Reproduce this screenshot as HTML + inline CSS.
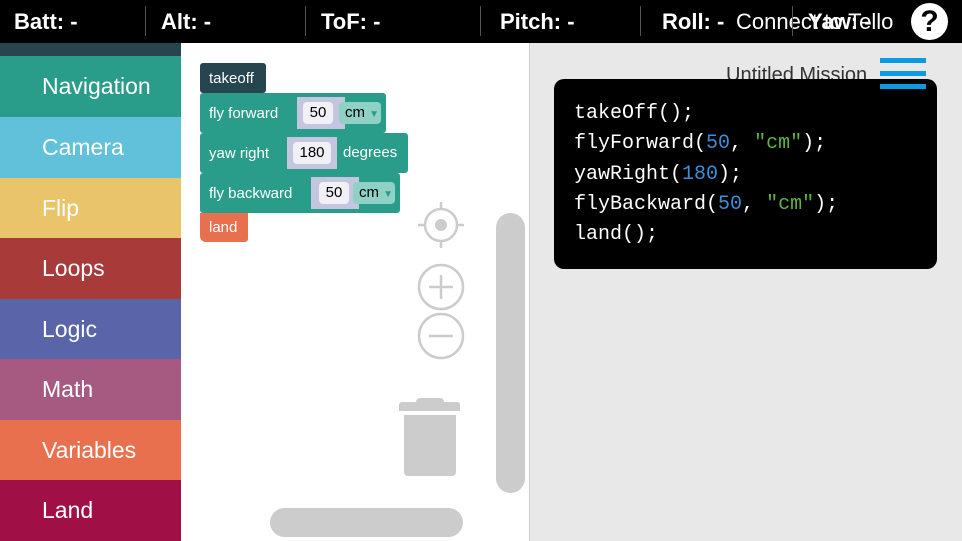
<!DOCTYPE html>
<html><head><meta charset="utf-8"><style>
*{margin:0;padding:0;box-sizing:border-box}
body{width:962px;height:541px;overflow:hidden;position:relative;font-family:"Liberation Sans",sans-serif;background:#fff}
.a{position:absolute}
.hd{left:0;top:0;width:962px;height:43px;background:#000;color:#fff;font-size:22px}
.hd span{position:absolute;top:9px;font-weight:bold;white-space:nowrap}
.sep{position:absolute;top:6px;width:1px;height:30px;background:#555}
.cat{left:0;width:181px;color:#fff;font-size:23px;padding-left:42px;display:flex;align-items:center}
.blk{position:absolute;color:#fff;font-size:15px;display:flex;align-items:center;padding-left:9px;border-radius:3px;white-space:nowrap}
.inp{position:absolute;background:#c3c6de;height:32px}
.inp b{position:absolute;background:#f1f1f5;border-radius:4px;color:#000;font-weight:normal;font-size:15px;text-align:center;line-height:22px;top:5px}
.dd{position:absolute;background:#8fd1c4;border-radius:4px;color:#000;height:22px;font-size:15px;padding-left:6px;line-height:22px}
.dd i{font-style:normal;color:#2a9d8a;font-size:10px}
.code{left:554px;top:79px;width:383px;height:190px;background:#000;border-radius:10px;color:#fff;font-family:"Liberation Mono",monospace;font-size:20px;line-height:30.3px;padding:20px 0 0 20px;white-space:nowrap}
.n{color:#3b8fd6}.s{color:#5fb43c}
</style></head><body>
<div class="a hd">
<span style="left:14px">Batt: -</span><div class="sep" style="left:145px"></div>
<span style="left:161px">Alt: -</span><div class="sep" style="left:305px"></div>
<span style="left:321px">ToF: -</span><div class="sep" style="left:480px"></div>
<span style="left:500px">Pitch: -</span><div class="sep" style="left:640px"></div>
<span style="left:662px">Roll: -</span>
<span style="left:736px;font-weight:normal">Connect to Tello</span><div class="sep" style="left:792px"></div>
<span style="left:808px">Yaw: -</span>
<div class="a" style="left:911px;top:3px;width:37px;height:37px;border-radius:50%;background:#fff;color:#000;font-size:30px;font-weight:bold;text-align:center;line-height:37px">?</div>
</div>
<div class="a" style="left:0;top:43px;width:181px;height:13px;background:#26454f"></div>
<div class="a cat" style="top:56px;height:61px;background:#2a9d8a">Navigation</div>
<div class="a cat" style="top:117px;height:61px;background:#62c1da">Camera</div>
<div class="a cat" style="top:178px;height:60px;background:#e9c46a">Flip</div>
<div class="a cat" style="top:238px;height:61px;background:#a83a3a">Loops</div>
<div class="a cat" style="top:299px;height:60px;background:#5a64a8">Logic</div>
<div class="a cat" style="top:359px;height:61px;background:#a65a82">Math</div>
<div class="a cat" style="top:420px;height:60px;background:#e8704f">Variables</div>
<div class="a cat" style="top:480px;height:61px;background:#a01046">Land</div>

<div class="a" style="left:529px;top:43px;width:433px;height:498px;background:#e8e8e8;border-left:1px solid #ccc"></div>

<div class="blk" style="left:200px;top:63px;width:66px;height:30px;background:#26454f">takeoff</div>
<div class="blk" style="left:200px;top:93px;width:186px;height:40px;background:#2a9d8a">fly forward
 <div class="inp" style="left:97px;top:4px;width:48px"><b style="left:6px;width:30px">50</b></div>
 <div class="dd" style="left:139px;top:9px;width:42px">cm <i>▼</i></div></div>
<div class="blk" style="left:200px;top:133px;width:208px;height:40px;background:#2a9d8a">yaw right
 <div class="inp" style="left:87px;top:4px;width:50px"><b style="left:6px;width:38px">180</b></div>
 <span style="position:absolute;left:143px;top:11px">degrees</span></div>
<div class="blk" style="left:200px;top:173px;width:200px;height:40px;background:#2a9d8a">fly backward
 <div class="inp" style="left:111px;top:4px;width:48px"><b style="left:8px;width:30px">50</b></div>
 <div class="dd" style="left:153px;top:9px;width:42px">cm <i>▼</i></div></div>
<div class="blk" style="left:200px;top:213px;width:48px;height:29px;background:#e8704f;border-radius:0 0 3px 6px">land</div>

<svg class="a" style="left:410px;top:195px" width="62" height="170">
<g stroke="#ccc" stroke-width="2.5" fill="none">
<circle cx="31" cy="30" r="16"/><line x1="31" y1="7" x2="31" y2="14"/><line x1="31" y1="46" x2="31" y2="53"/><line x1="8" y1="30" x2="15" y2="30"/><line x1="47" y1="30" x2="54" y2="30"/>
<circle cx="31" cy="92" r="22"/><line x1="31" y1="80" x2="31" y2="104"/><line x1="19" y1="92" x2="43" y2="92"/>
<circle cx="31" cy="141" r="22"/><line x1="19" y1="141" x2="43" y2="141"/></g>
<circle cx="31" cy="30" r="6" fill="#ccc"/></svg>
<div class="a" style="left:416px;top:398px;width:28px;height:6px;background:#ccc;border-radius:4px 4px 0 0"></div>
<div class="a" style="left:399px;top:402px;width:61px;height:9px;background:#ccc;border-radius:3px 3px 0 0"></div>
<div class="a" style="left:404px;top:415px;width:52px;height:61px;background:#ccc;border-radius:0 0 4px 4px"></div>
<div class="a" style="left:496px;top:213px;width:29px;height:280px;background:#ccc;border-radius:15px"></div>
<div class="a" style="left:270px;top:508px;width:193px;height:29px;background:#ccc;border-radius:15px"></div>

<div class="a" style="left:726px;top:64px;font-size:20px;color:#333">Untitled Mission</div>
<div class="code a">takeOff();<br>flyForward(<span class="n">50</span>, <span class="s">"cm"</span>);<br>yawRight(<span class="n">180</span>);<br>flyBackward(<span class="n">50</span>, <span class="s">"cm"</span>);<br>land();</div>
<div class="a" style="left:880px;top:58px;width:46px;height:5px;background:#0a9be3"></div>
<div class="a" style="left:880px;top:71px;width:46px;height:5px;background:#0a9be3"></div>
<div class="a" style="left:880px;top:84px;width:46px;height:5px;background:#0a9be3"></div>
</body></html>
